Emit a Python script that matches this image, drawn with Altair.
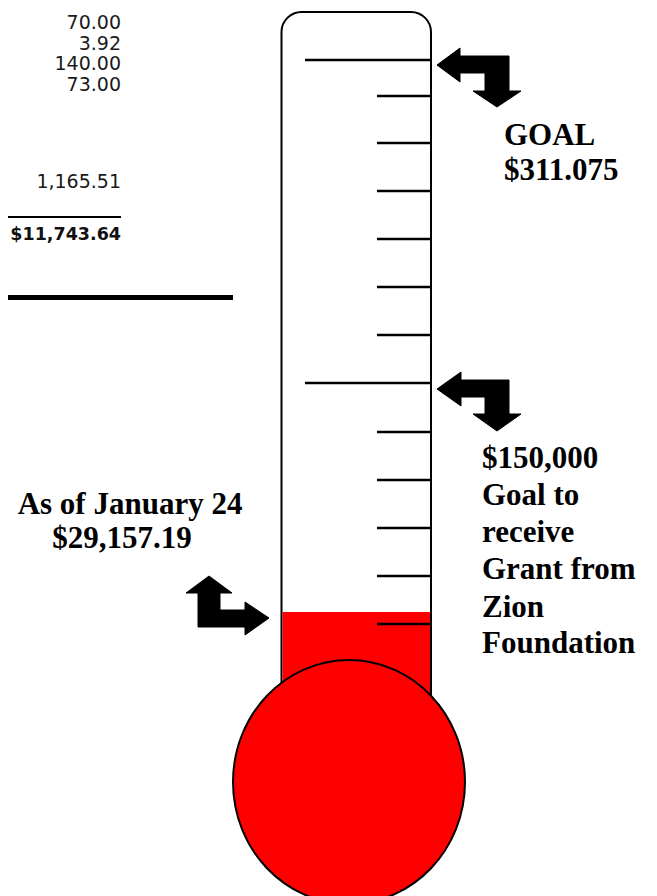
import altair as alt
import pandas as pd

# ---------------- values (drawing units = page pixels) -------------
# left ledger
ledger_amounts = ["70.00", "3.92", "140.00", "73.00", "1,165.51"]
ledger_levels = [29, 49.5, 70, 90.5, 188]
ledger_total = ["$11,743.64"]
ledger_total_level = [240]
ledger_rule_from = [8, 8]
ledger_rule_to = [121, 233]
ledger_rule_level = [217, 297.5]
ledger_rule_weight = [2, 5]

# thermometer
tube_left, tube_right, tube_top, tube_bottom = [281.5], [431], [12], [700]
mercury_level = [612]            # "As of January 24  $29,157.19"
tick_levels = [60, 96, 143, 191, 239, 287, 335, 383, 432, 480, 528, 576, 624]
tick_major = [True, False, False, False, False, False, False, True,
              False, False, False, False, False]
bulb_x, bulb_y = [349], [782]

# arrows (outline vertices)
arrow_goal_x = [437, 460, 460, 509, 509, 521, 497, 473, 485, 485, 460, 460]
arrow_goal_y = [65, 48, 56, 56, 91, 91, 107, 91, 91, 73, 73, 82]
arrow_grant_x = [437, 461, 461, 509, 509, 521, 497, 473, 485, 485, 461, 461]
arrow_grant_y = [389, 372, 380, 380, 414, 414, 431, 414, 414, 397, 397, 406]
arrow_now_x = [209, 232, 220, 220, 245, 245, 269, 245, 245, 198, 198, 186]
arrow_now_y = [576, 593, 593, 610, 610, 602, 618, 635, 627, 627, 593, 593]

# captions
goal_lines = ["GOAL", "$311.075"]
goal_levels = [145, 180]
grant_lines = ["$150,000", "Goal to", "receive", "Grant from", "Zion", "Foundation"]
grant_levels = [468, 505, 542, 579, 617, 653]
now_lines = ["As of January 24", "$29,157.19"]
now_levels = [514, 548]
now_centers = [130, 122]

# ---------------- scales -------------
W, H = 641, 888
xs = alt.Scale(domain=[8, 8 + W], nice=False, zero=False)
ys = alt.Scale(domain=[8, 8 + H], nice=False, zero=False, reverse=True)


def X(f="x"):
    return alt.X(f"{f}:Q", scale=xs, axis=None)


def Y(f="y"):
    return alt.Y(f"{f}:Q", scale=ys, axis=None)


# ledger
ledger_df = pd.DataFrame({"t": ledger_amounts, "x": [121] * len(ledger_amounts), "y": ledger_levels})
ledger_txt = alt.Chart(ledger_df).mark_text(
    align="right", baseline="alphabetic", font="DejaVu Sans", fontSize=19, color="#1a1a1a"
).encode(x=X(), y=Y(), text="t:N")

total_df = pd.DataFrame({"t": ledger_total, "x": [121], "y": ledger_total_level})
total_txt = alt.Chart(total_df).mark_text(
    align="right", baseline="alphabetic", font="DejaVu Sans", fontSize=17.5,
    fontWeight="bold", color="#111111"
).encode(x=X(), y=Y(), text="t:N")

rules_df = pd.DataFrame({"x": ledger_rule_from, "x2": ledger_rule_to,
                         "y": ledger_rule_level, "w": ledger_rule_weight})
ledger_rules = alt.Chart(rules_df).mark_rule(color="black").encode(
    x=X(), x2="x2:Q", y=Y(), strokeWidth=alt.StrokeWidth("w:Q", scale=None)
)

# tube
tube_df = pd.DataFrame({"x": tube_left, "x2": tube_right, "y": tube_top, "y2": tube_bottom})
tube = alt.Chart(tube_df).mark_rect(
    fill="white", stroke="black", strokeWidth=2,
    cornerRadiusTopLeft=20, cornerRadiusTopRight=20
).encode(x=X(), x2="x2:Q", y=Y(), y2="y2:Q")

merc_df = pd.DataFrame({"x": [tube_left[0] + 1], "x2": [tube_right[0] - 1],
                        "y": mercury_level, "y2": [tube_bottom[0] + 20]})
mercury = alt.Chart(merc_df).mark_rect(fill="#ff0000").encode(
    x=X(), x2="x2:Q", y=Y(), y2="y2:Q")

ticks_df = pd.DataFrame({
    "x": [305 if m else 377 for m in tick_major],
    "x2": [tube_right[0]] * len(tick_levels),
    "y": tick_levels,
})
ticks = alt.Chart(ticks_df).mark_rule(color="black", strokeWidth=2.5).encode(
    x=X(), x2="x2:Q", y=Y())

ellipse = ("M1,0 C1,0.581 0.5523,1.052 0,1.052 C-0.5523,1.052 -1,0.581 -1,0 "
           "C-1,-0.581 -0.5523,-1.052 0,-1.052 C0.5523,-1.052 1,-0.581 1,0 Z")
bulb_df = pd.DataFrame({"x": bulb_x, "y": bulb_y})
bulb = alt.Chart(bulb_df).mark_point(
    shape=ellipse, size=232 * 232, filled=True, fill="#ff0000",
    stroke="black", strokeWidth=2, opacity=1
).encode(x=X(), y=Y())

# arrows
rows = []
for name, ax, ay in [("goal", arrow_goal_x, arrow_goal_y),
                     ("grant", arrow_grant_x, arrow_grant_y),
                     ("now", arrow_now_x, arrow_now_y)]:
    for i, (a, b) in enumerate(zip(ax, ay)):
        rows.append({"arrow": name, "i": i, "x": a, "y": b})
arrows_df = pd.DataFrame(rows)
arrows = alt.Chart(arrows_df).mark_line(
    interpolate="linear-closed", filled=True, fill="black", stroke="black", strokeWidth=1
).encode(x=X(), y=Y(), detail="arrow:N", order="i:Q")

# captions
serif = dict(font="Liberation Serif", fontWeight="bold", fontSize=31,
             color="black", baseline="alphabetic")
goal_df = pd.DataFrame({"t": goal_lines, "x": [504] * 2, "y": goal_levels})
goal_txt = alt.Chart(goal_df).mark_text(align="left", **serif).encode(x=X(), y=Y(), text="t:N")
grant_df = pd.DataFrame({"t": grant_lines, "x": [482] * len(grant_lines), "y": grant_levels})
grant_txt = alt.Chart(grant_df).mark_text(align="left", **serif).encode(x=X(), y=Y(), text="t:N")
now_df = pd.DataFrame({"t": now_lines, "x": now_centers, "y": now_levels})
now_txt = alt.Chart(now_df).mark_text(align="center", **serif).encode(x=X(), y=Y(), text="t:N")

chart = alt.layer(
    ledger_rules, ledger_txt, total_txt,
    tube, mercury, ticks, bulb, arrows,
    goal_txt, grant_txt, now_txt,
).properties(
    width=W, height=H, padding=0, autosize=alt.AutoSizeParams(type="none")
).configure_view(stroke=None)

chart.save("out.html", embed_options={"renderer": "svg", "actions": False})
